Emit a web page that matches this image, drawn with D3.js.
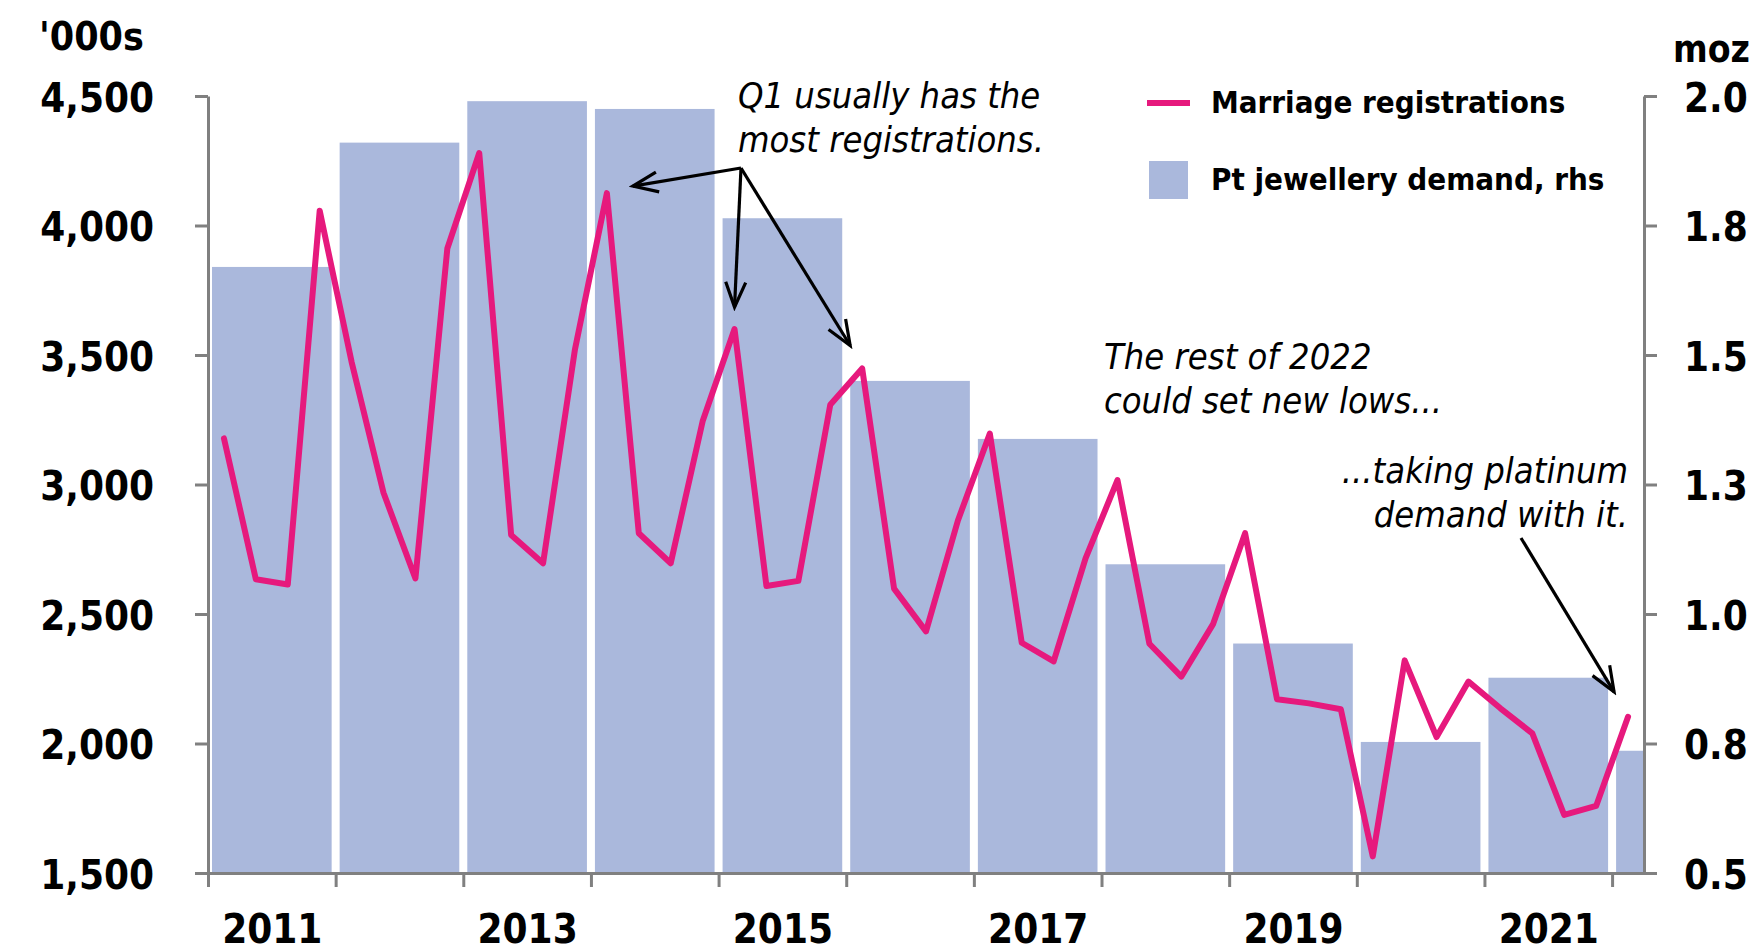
<!DOCTYPE html>
<html>
<head>
<meta charset="utf-8">
<script src="https://cdn.jsdelivr.net/npm/d3@7"></script>
<style>
  html, body { margin: 0; padding: 0; background: #ffffff; }
  svg { display: block; }
  .cond { font-family: "DejaVu Sans Condensed", "DejaVu Sans", sans-serif; font-stretch: condensed; }
</style>
</head>
<body>
<svg id="chart" width="1757" height="952"></svg>
<script>
// ---------------- DATA ----------------
const years = [2011, 2012, 2013, 2014, 2015, 2016, 2017, 2018, 2019, 2020, 2021, 2022];
const jewelleryDemand = [1.67, 1.91, 1.99, 1.975, 1.764, 1.45, 1.338, 1.096, 0.943, 0.753, 0.877, 0.736]; // moz, rhs

const quarters = [
  "2011Q1","2011Q2","2011Q3","2011Q4",
  "2012Q1","2012Q2","2012Q3","2012Q4",
  "2013Q1","2013Q2","2013Q3","2013Q4",
  "2014Q1","2014Q2","2014Q3","2014Q4",
  "2015Q1","2015Q2","2015Q3","2015Q4",
  "2016Q1","2016Q2","2016Q3","2016Q4",
  "2017Q1","2017Q2","2017Q3","2017Q4",
  "2018Q1","2018Q2","2018Q3","2018Q4",
  "2019Q1","2019Q2","2019Q3","2019Q4",
  "2020Q1","2020Q2","2020Q3","2020Q4",
  "2021Q1","2021Q2","2021Q3","2021Q4",
  "2022Q1"
];
const marriages = [ // '000s
  3178, 2634, 2614, 4057,
  3473, 2968, 2637, 3911,
  4280, 2805, 2696, 3522,
  4125, 2812, 2696, 3244,
  3600, 2608, 2628, 3308,
  3448, 2598, 2433, 2861,
  3197, 2389, 2317, 2715,
  3017, 2385, 2258, 2462,
  2812, 2171, 2155, 2132,
  1564, 2321, 2025, 2239,
  2136, 2039, 1724, 1759,
  2103
];

const leftTicks = [1500, 2000, 2500, 3000, 3500, 4000, 4500];
const leftTickLabels = ["1,500", "2,000", "2,500", "3,000", "3,500", "4,000", "4,500"];
const rightTicks = [0.5, 0.75, 1.0, 1.25, 1.5, 1.75, 2.0];
const rightTickLabels = ["0.5", "0.8", "1.0", "1.3", "1.5", "1.8", "2.0"];
const yearTicks = [2011, 2012, 2013, 2014, 2015, 2016, 2017, 2018, 2019, 2020, 2021, 2022];
const yearLabels = [2011, 2013, 2015, 2017, 2019, 2021];

const seriesNames = ["Marriage registrations", "Pt jewellery demand, rhs"];
const annotations = {
  q1: ["Q1 usually has the", "most registrations."],
  rest: ["The rest of 2022", "could set new lows..."],
  taking: ["...taking platinum", "demand with it."]
};

// ---------------- LAYOUT ----------------
const W = 1757, H = 952;
const plot = { left: 208, right: 1644, top: 96, bottom: 873 };
const C = {
  bar: "#aab8dc",
  line: "#e6197d",
  axis: "#808080",
  text: "#000000"
};

const svg = d3.select("#chart");

const x = d3.scaleLinear().domain([2011, 2022.25]).range([plot.left, plot.right]);
const yL = d3.scaleLinear().domain([1500, 4500]).range([plot.bottom, plot.top]);
const yR = d3.scaleLinear().domain([0.5, 2.0]).range([plot.bottom, plot.top]);

const qPos = q => {
  const yr = +q.slice(0, 4), qn = +q.slice(5);
  return yr + (qn - 0.5) / 4;
};

// clip for bars
svg.append("defs").append("clipPath").attr("id", "plotclip")
  .append("rect")
  .attr("x", plot.left).attr("y", 0)
  .attr("width", plot.right - plot.left).attr("height", plot.bottom);

// marker
svg.select("defs").append("marker")
  .attr("id", "arrow")
  .attr("viewBox", "-30 -15 34 30")
  .attr("refX", 0).attr("refY", 0)
  .attr("markerWidth", 34).attr("markerHeight", 30)
  .attr("markerUnits", "userSpaceOnUse")
  .attr("orient", "auto")
  .append("path")
  .attr("d", "M-25,-10 L0,0 L-25,10")
  .attr("fill", "none")
  .attr("stroke", "#000")
  .attr("stroke-width", 3.2)
  .attr("stroke-linejoin", "miter");

// ---------------- BARS ----------------
const barGap = 4;
svg.append("g").attr("clip-path", "url(#plotclip)")
  .selectAll("rect").data(years).join("rect")
  .attr("x", (d) => x(d) + barGap)
  .attr("width", (d) => x(d + 1) - x(d) - 2 * barGap)
  .attr("y", (d, i) => yR(jewelleryDemand[i]))
  .attr("height", (d, i) => yR(0.5) - yR(jewelleryDemand[i]))
  .attr("fill", C.bar);

// ---------------- LINE ----------------
const line = d3.line()
  .x((d, i) => x(qPos(quarters[i])))
  .y(d => yL(d));
svg.append("path")
  .datum(marriages)
  .attr("d", line)
  .attr("fill", "none")
  .attr("stroke", C.line)
  .attr("stroke-width", 6)
  .attr("stroke-linejoin", "round")
  .attr("stroke-linecap", "round");

// ---------------- AXES ----------------
function styleAxis(g) {
  g.selectAll(".domain").attr("stroke", C.axis).attr("stroke-width", 3);
  g.selectAll(".tick line").attr("stroke", C.axis).attr("stroke-width", 3);
  g.selectAll("text")
    .attr("class", "cond")
    .attr("fill", C.text)
    .style("font-size", "40px")
    .style("font-weight", "bold");
}

const gLeft = svg.append("g")
  .attr("transform", `translate(${plot.left},0)`)
  .call(d3.axisLeft(yL).tickValues(leftTicks)
    .tickFormat((d, i) => leftTickLabels[i]).tickSize(13).tickSizeOuter(0).tickPadding(41));
styleAxis(gLeft);
gLeft.selectAll("text").attr("dy", null).attr("y", 15);

const gRight = svg.append("g")
  .attr("transform", `translate(${plot.right},0)`)
  .call(d3.axisRight(yR).tickValues(rightTicks)
    .tickFormat((d, i) => rightTickLabels[i]).tickSize(13).tickSizeOuter(0).tickPadding(27));
styleAxis(gRight);
gRight.selectAll("text").attr("dy", null).attr("y", 15);

const gBottom = svg.append("g")
  .attr("transform", `translate(0,${plot.bottom})`)
  .call(d3.axisBottom(x).tickValues(yearTicks).tickFormat("").tickSize(14).tickSizeOuter(0));
styleAxis(gBottom);

const gLabels = svg.append("g")
  .attr("transform", `translate(0,${plot.bottom})`)
  .call(d3.axisBottom(x).tickValues(yearLabels.map(d => d + 0.5))
    .tickFormat((d, i) => String(yearLabels[i])).tickSize(0).tickSizeOuter(0));
gLabels.select(".domain").remove();
styleAxis(gLabels);
gLabels.selectAll("text").attr("dy", null).attr("y", 70);

// unit labels
svg.append("text").attr("class", "cond")
  .attr("x", 39).attr("y", 50)
  .style("font-size", "39px").style("font-weight", "bold")
  .text("'000s");
svg.append("text").attr("class", "cond")
  .attr("x", 1673).attr("y", 62)
  .style("font-size", "37px").style("font-weight", "bold")
  .text("moz");

// ---------------- LEGEND ----------------
const lg = svg.append("g");
lg.append("line")
  .attr("x1", 1147).attr("x2", 1190).attr("y1", 103).attr("y2", 103)
  .attr("stroke", C.line).attr("stroke-width", 6);
lg.append("text").attr("class", "cond")
  .attr("x", 1211).attr("y", 113)
  .style("font-size", "31px").style("font-weight", "bold")
  .text(seriesNames[0]);
lg.append("rect")
  .attr("x", 1149).attr("y", 161).attr("width", 39).attr("height", 38)
  .attr("fill", C.bar);
lg.append("text").attr("class", "cond")
  .attr("x", 1211).attr("y", 190)
  .style("font-size", "31px").style("font-weight", "bold")
  .text(seriesNames[1]);

// ---------------- ANNOTATIONS ----------------
function multiText(lines, xPos, yPos, lh, anchor) {
  const t = svg.append("text").attr("class", "cond")
    .attr("x", xPos).attr("y", yPos)
    .attr("text-anchor", anchor)
    .style("font-size", "36px").style("font-style", "italic");
  lines.forEach((s, i) => t.append("tspan").attr("x", xPos).attr("y", yPos + i * lh).text(s));
}
multiText(annotations.q1, 738, 108, 44, "start");
multiText(annotations.rest, 1104, 369, 44, "start");
multiText(annotations.taking, 1628, 483, 44, "end");

function arrow(x1, y1, x2, y2) {
  svg.append("line")
    .attr("x1", x1).attr("y1", y1).attr("x2", x2).attr("y2", y2)
    .attr("stroke", "#000").attr("stroke-width", 3.2)
    .attr("marker-end", "url(#arrow)");
}
const origin = [741, 168];
const pt = q => [x(qPos(q)), yL(marriages[quarters.indexOf(q)])];
{
  let p = pt("2014Q1"); arrow(origin[0], origin[1], p[0] + 26, p[1] - 7);
  p = pt("2015Q1"); arrow(origin[0], origin[1], p[0], p[1] - 22);
  p = pt("2016Q1"); arrow(origin[0], origin[1], p[0] - 12, p[1] - 23);
  p = pt("2022Q1"); arrow(1521, 538, p[0] - 14, p[1] - 25);
}
</script>
</body>
</html>
